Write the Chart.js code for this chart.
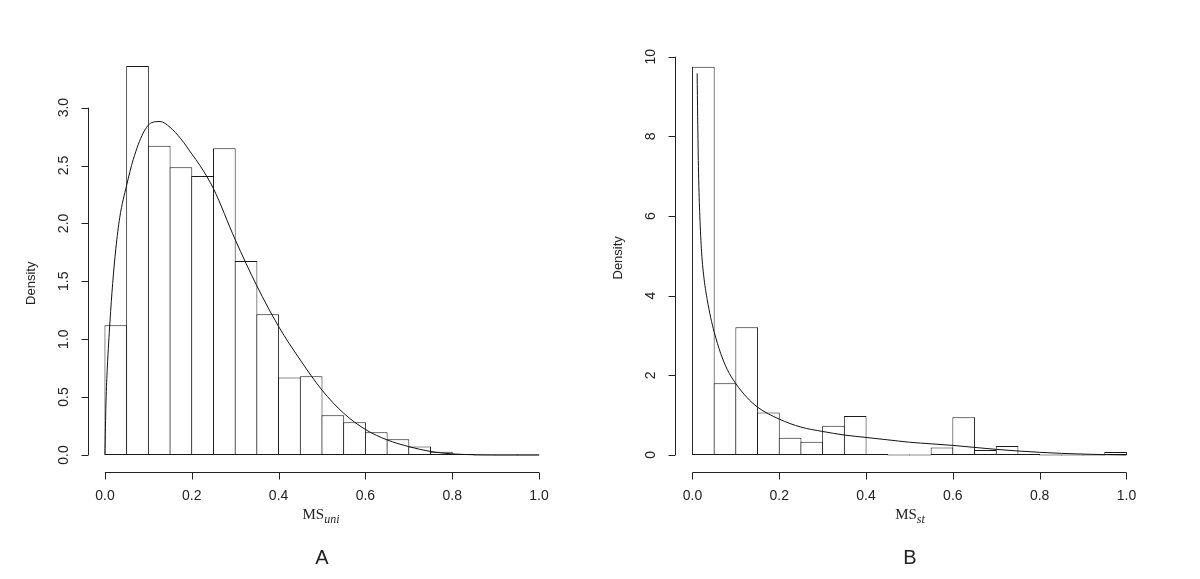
<!DOCTYPE html>
<html>
<head>
<meta charset="utf-8">
<script src="https://cdn.jsdelivr.net/npm/chart.js@4.4.1/dist/chart.umd.min.js"></script>
<style>
  html, body { margin: 0; padding: 0; background: #fff; }
  .wrap { position: relative; width: 1200px; height: 579px; overflow: hidden; }
  canvas { position: absolute; top: 0; }
  #histA { left: 0; }
  #histB { left: 600px; }
  .xlab { position: absolute; top: 507px; font: 15px "Liberation Serif", "Times New Roman", serif; color: #222; transform: translateX(-50%); line-height: 15px; white-space: nowrap; }
  .xlab sub { font-size: 12px; font-style: italic; vertical-align: -4px; }
  .panel { position: absolute; top: 547px; font: 20px "Liberation Sans", Arial, sans-serif; color: #222; transform: translateX(-50%); line-height: 20px; }
</style>
</head>
<body>
<div class="wrap">
  <canvas id="histA" width="600" height="579"></canvas>
  <canvas id="histB" width="600" height="579"></canvas>
  <div class="xlab" style="left:321px">MS<sub>uni</sub></div>
  <div class="xlab" style="left:910px">MS<sub>st</sub></div>
  <div class="panel" style="left:322px">A</div>
  <div class="panel" style="left:910px">B</div>
</div>
<script>
// bin centres (width 0.05) shared by both histograms
const binCenters = [0.025, 0.075, 0.125, 0.175, 0.225, 0.275, 0.325, 0.375, 0.425, 0.475,
                    0.525, 0.575, 0.625, 0.675, 0.725, 0.775, 0.825, 0.875, 0.925, 0.975];

// panel A: MS_uni densities
const densityA = [1.12, 3.36, 2.67, 2.485, 2.41, 2.65, 1.675, 1.215, 0.668, 0.68,
                  0.342, 0.283, 0.195, 0.135, 0.072, 0.027, 0.005, 0, 0, 0];
const curveAx = [0, 0.0023, 0.0054, 0.0115, 0.0177, 0.025, 0.034, 0.05, 0.065, 0.088, 0.1075, 0.127,
                 0.15, 0.175, 0.2, 0.219, 0.25, 0.3, 0.35, 0.4, 0.45, 0.5, 0.55, 0.6, 0.65, 0.7,
                 0.75, 0.8, 0.85, 0.9, 1.0];
const curveAy = [0, 0.45, 0.75, 1.15, 1.48, 1.78, 2.05, 2.33, 2.55, 2.78, 2.87, 2.88,
                 2.83, 2.73, 2.6, 2.5, 2.3, 1.86, 1.46, 1.11, 0.82, 0.56, 0.36, 0.22, 0.13, 0.072,
                 0.03, 0.009, 0.002, 0, 0];

// panel B: MS_st densities
const densityB = [9.75, 1.8, 3.205, 1.065, 0.43, 0.33, 0.733, 0.98, 0.02, 0,
                  0, 0.186, 0.946, 0.125, 0.226, 0.008, 0, 0, 0, 0.075];
const curveBx = [0.0108, 0.012, 0.014, 0.017, 0.021, 0.027, 0.034, 0.042, 0.05, 0.065, 0.08, 0.1,
                 0.125, 0.15, 0.2, 0.25, 0.3, 0.35, 0.4, 0.45, 0.5, 0.55, 0.6, 0.65, 0.7, 0.75,
                 0.8, 0.85, 0.9, 0.95, 1.0];
const curveBy = [9.58, 8.5, 7.1, 6.0, 5.1, 4.4, 3.9, 3.45, 3.09, 2.55, 2.15, 1.79,
                 1.45, 1.2, 0.9, 0.7, 0.59, 0.5, 0.44, 0.38, 0.32, 0.28, 0.24, 0.19, 0.14, 0.1,
                 0.067, 0.04, 0.022, 0.008, 0];

const xTicks = [0, 0.2, 0.4, 0.6, 0.8, 1.0];
const yTicksA = [0, 0.5, 1.0, 1.5, 2.0, 2.5, 3.0];
const yTicksB = [0, 2, 4, 6, 8, 10];

const INK = '#222';
const SANS = '"Liberation Sans", Arial, Helvetica, sans-serif';

// base-R style detached axes
const rAxes = {
  id: 'rAxes',
  afterDraw(chart, args, o) {
    const { ctx, chartArea } = chart;
    const xs = chart.scales.x, ys = chart.scales.y;
    ctx.save();
    ctx.strokeStyle = INK;
    ctx.fillStyle = INK;
    ctx.lineWidth = 1;
    ctx.font = '14px ' + SANS;

    // x axis
    const yb = Math.round(chartArea.bottom + 1) + 0.5;
    const x0 = xs.getPixelForValue(xTicks[0]);
    const x1 = xs.getPixelForValue(xTicks[xTicks.length - 1]);
    ctx.beginPath();
    ctx.moveTo(x0, yb); ctx.lineTo(x1, yb);
    xTicks.forEach(v => {
      const px = Math.round(xs.getPixelForValue(v)) + 0.5;
      ctx.moveTo(px, yb); ctx.lineTo(px, yb + 7);
    });
    ctx.stroke();
    ctx.textAlign = 'center';
    ctx.textBaseline = 'middle';
    xTicks.forEach(v => ctx.fillText(v.toFixed(1), xs.getPixelForValue(v), yb + 24));

    // y axis
    const xl = Math.round(chartArea.left) + 0.5;
    const t = o.ticks;
    ctx.beginPath();
    ctx.moveTo(xl, ys.getPixelForValue(t[0]));
    ctx.lineTo(xl, ys.getPixelForValue(t[t.length - 1]));
    t.forEach(v => {
      const py = Math.round(ys.getPixelForValue(v)) + 0.5;
      ctx.moveTo(xl, py); ctx.lineTo(xl - 7, py);
    });
    ctx.stroke();
    t.forEach(v => {
      ctx.save();
      ctx.translate(xl - 24, ys.getPixelForValue(v));
      ctx.rotate(-Math.PI / 2);
      ctx.fillText(v.toFixed(o.digits), 0, 0);
      ctx.restore();
    });

    // y title
    ctx.font = '13px ' + SANS;
    ctx.save();
    ctx.translate(xl - 57, (ys.getPixelForValue(t[0]) + ys.getPixelForValue(t[t.length - 1])) / 2 + 2);
    ctx.rotate(-Math.PI / 2);
    ctx.fillText('Density', 0, 0);
    ctx.restore();

    ctx.restore();
  }
};

function makeHist(id, density, cx, cy, yMin, yMax, pad, yTicks, digits) {
  const barPx = (600 - pad.left - pad.right) / 1.08 * 0.05;
  return new Chart(document.getElementById(id), {
    data: {
      datasets: [
        {
          type: 'line',
          data: cx.map((x, i) => ({ x, y: cy[i] })),
          borderColor: '#111',
          borderWidth: 1,
          pointRadius: 0,
          fill: false,
          cubicInterpolationMode: 'monotone',
          order: 0
        },
        {
          type: 'bar',
          data: binCenters.map((x, i) => ({ x, y: density[i] })),
          backgroundColor: '#ffffff',
          borderColor: '#1a1a1a',
          borderWidth: 1,
          borderSkipped: false,
          minBarLength: 1,
          barPercentage: 1 + 1 / barPx,
          categoryPercentage: 1,
          order: 1
        }
      ]
    },
    options: {
      responsive: false,
      animation: false,
      devicePixelRatio: 1,
      layout: { padding: pad },
      plugins: {
        legend: { display: false },
        tooltip: { enabled: false },
        rAxes: { ticks: yTicks, digits }
      },
      scales: {
        x: { type: 'linear', min: -0.04, max: 1.04, offset: false, display: false },
        y: { type: 'linear', min: yMin, max: yMax, display: false }
      }
    },
    plugins: [rAxes]
  });
}

makeHist('histA', densityA, curveAx, curveAy, -0.1344, 3.4944,
  { left: 87.6, right: 43.6, top: 50.4, bottom: 108.5 }, yTicksA, 1);
makeHist('histB', densityB, curveBx, curveBy, -0.39, 10.14,
  { left: 75.1, right: 56.2, top: 51.1, bottom: 108.5 }, yTicksB, 0);
</script>
</body>
</html>
